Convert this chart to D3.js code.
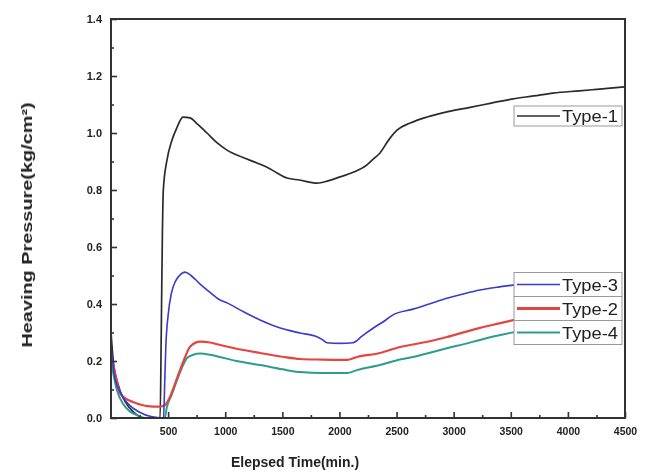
<!DOCTYPE html>
<html>
<head>
<meta charset="utf-8">
<script src="https://cdn.jsdelivr.net/npm/d3@7"></script>
<style>
  html, body { margin: 0; padding: 0; background: #fff; }
  svg { display: block; }
  text { font-family: Arial, "Liberation Sans", sans-serif; fill: #222; }
</style>
</head>
<body>
<script>
// Heaving pressure readings, [elapsed minutes, kg/cm²]
const type1 = [[0,0.30],[20,0.20],[60,0.12],[120,0.06],[200,0.02],[300,0.0],[430,0.0],[440,0.30],[450,0.65],[458,0.80],[490,0.905],[530,0.97],[578,1.02],[630,1.056],[692,1.053],[760,1.03],[840,1.0],[930,0.965],[1015,0.94],[1150,0.915],[1278,0.895],[1366,0.88],[1453,0.86],[1541,0.842],[1650,0.835],[1803,0.824],[1900,0.832],[2005,0.846],[2120,0.862],[2241,0.888],[2300,0.91],[2355,0.93],[2430,0.975],[2504,1.01],[2620,1.035],[2766,1.056],[2950,1.075],[3143,1.09],[3330,1.105],[3520,1.12],[3700,1.13],[3870,1.14],[4100,1.148],[4395,1.158],[4500,1.162]];
const type3 = [[0,0.25],[30,0.15],[80,0.09],[150,0.05],[250,0.02],[350,0.005],[460,0.0],[470,0.12],[480,0.25],[500,0.36],[530,0.44],[565,0.48],[600,0.50],[648,0.512],[700,0.50],[780,0.47],[870,0.44],[954,0.414],[1015,0.404],[1150,0.375],[1305,0.344],[1450,0.32],[1655,0.298],[1803,0.285],[1850,0.275],[1891,0.264],[2000,0.262],[2118,0.264],[2200,0.288],[2294,0.315],[2400,0.342],[2469,0.362],[2644,0.382],[2800,0.402],[2941,0.42],[3100,0.437],[3230,0.449],[3400,0.46],[3550,0.468]];
const type2 = [[0,0.22],[40,0.15],[79,0.088],[130,0.068],[193,0.056],[250,0.048],[315,0.042],[430,0.04],[470,0.045],[516,0.074],[560,0.12],[604,0.168],[650,0.215],[692,0.25],[780,0.268],[866,0.265],[954,0.256],[1100,0.243],[1305,0.228],[1500,0.215],[1655,0.207],[1850,0.205],[2066,0.204],[2153,0.214],[2355,0.228],[2530,0.249],[2644,0.258],[2800,0.27],[2941,0.284],[3100,0.302],[3230,0.316],[3400,0.332],[3550,0.346]];
const type4 = [[0,0.20],[50,0.10],[105,0.05],[160,0.025],[227,0.01],[300,0.0],[470,0.0],[490,0.04],[530,0.08],[578,0.133],[620,0.175],[665,0.21],[720,0.222],[780,0.226],[866,0.222],[954,0.214],[1100,0.2],[1305,0.186],[1500,0.171],[1655,0.161],[1850,0.158],[2066,0.158],[2153,0.168],[2355,0.186],[2530,0.205],[2644,0.214],[2800,0.23],[2941,0.245],[3100,0.26],[3230,0.274],[3400,0.29],[3550,0.303]];

const xTicks = [500, 1000, 1500, 2000, 2500, 3000, 3500, 4000, 4500];
const yTicks = [0.0, 0.2, 0.4, 0.6, 0.8, 1.0, 1.2, 1.4];

const W = 651, H = 475;
const margin = { left: 111, top: 19, right: 26, bottom: 57 };

const x = d3.scaleLinear().domain([0, 4500]).range([margin.left, W - margin.right]);
const y = d3.scaleLinear().domain([0, 1.4]).range([H - margin.bottom, margin.top]);

const svg = d3.select("body").append("svg").attr("width", W).attr("height", H);

// soft scan-like rendering
const defs = svg.append("defs");
defs.append("filter").attr("id", "soft")
  .append("feGaussianBlur").attr("stdDeviation", 0.6);

const g = svg.append("g").attr("filter", "url(#soft)");

const series = [
  { name: "Type-1", data: type1, color: "#2b2b2b", width: 1.7 },
  { name: "Type-4", data: type4, color: "#2e9c8c", width: 2.0 },
  { name: "Type-2", data: type2, color: "#e4453f", width: 2.2 },
  { name: "Type-3", data: type3, color: "#3a3acb", width: 1.6 }
];

const line = d3.line().x(d => x(d[0])).y(d => y(d[1])).curve(d3.curveMonotoneX);

const plot = g.append("g");
series.forEach(s => {
  plot.append("path").datum(s.data)
    .attr("d", line)
    .attr("fill", "none")
    .attr("stroke", s.color)
    .attr("stroke-width", s.width)
    .attr("stroke-linejoin", "round");
});

// axes: inward ticks, minor ticks between majors
const axisColor = "#333";
const xAxis = d3.axisBottom(x).tickValues(xTicks).tickSize(-6).tickPadding(10)
  .tickFormat(d3.format("d"));
const xMinor = d3.axisBottom(x).tickValues(d3.range(250, 4500, 500)).tickSize(-3).tickFormat("");
const yAxis = d3.axisLeft(y).tickValues(yTicks).tickSize(-6).tickPadding(9)
  .tickFormat(d3.format(".1f"));
const yMinor = d3.axisLeft(y).tickValues(d3.range(0.1, 1.4, 0.2)).tickSize(-3).tickFormat("");

function styleAxis(sel, size) {
  sel.select(".domain").remove();
  sel.selectAll("line").attr("stroke", axisColor).attr("stroke-width", 1.6);
  sel.selectAll("text").attr("font-size", size).attr("font-weight", "bold").attr("fill", "#333");
}

g.append("g").attr("transform", `translate(0,${y(0)})`).call(xAxis).call(styleAxis, 10.5);
g.append("g").attr("transform", `translate(0,${y(0)})`).call(xMinor).call(styleAxis, 10.5);
g.append("g").attr("transform", `translate(${x(0)},0)`).call(yAxis).call(styleAxis, 11);
g.append("g").attr("transform", `translate(${x(0)},0)`).call(yMinor).call(styleAxis, 11);

// frame
g.append("rect")
  .attr("x", x(0)).attr("y", y(1.4))
  .attr("width", x(4500) - x(0)).attr("height", y(0) - y(1.4))
  .attr("fill", "none").attr("stroke", axisColor).attr("stroke-width", 2);

// axis titles
g.append("text")
  .attr("x", 295).attr("y", 467)
  .attr("text-anchor", "middle")
  .attr("font-size", 14).attr("font-weight", "bold")
  .text("Elepsed Time(min.)");

g.append("text")
  .attr("transform", `translate(32,225) rotate(-90) scale(1.42,1)`)
  .attr("text-anchor", "middle")
  .attr("font-size", 14).attr("font-weight", "bold")
  .text("Heaving Pressure(kg/cm²)");

// legends
function legendRow(sx, sy, h, s) {
  const row = g.append("g").attr("transform", `translate(${sx},${sy})`);
  row.append("rect").attr("x", 0).attr("y", -h / 2).attr("width", 108).attr("height", h)
    .attr("fill", "#fff").attr("stroke", "#999").attr("stroke-width", 1);
  row.append("line").attr("x1", 3).attr("x2", 46).attr("y1", 0).attr("y2", 0)
    .attr("stroke", s.color).attr("stroke-width", s.name === "Type-2" ? 3.2 : s.width);
  row.append("text").attr("x", 48).attr("y", 6).attr("font-size", 16).attr("fill", "#333")
    .attr("textLength", 56).attr("lengthAdjust", "spacingAndGlyphs")
    .text(s.name);
}
const byName = Object.fromEntries(series.map(s => [s.name, s]));
legendRow(514, 116, 20, byName["Type-1"]);
legendRow(514, 284.5, 24, byName["Type-3"]);
legendRow(514, 308.5, 24, byName["Type-2"]);
legendRow(514, 332.5, 24, byName["Type-4"]);
</script>
</body>
</html>
